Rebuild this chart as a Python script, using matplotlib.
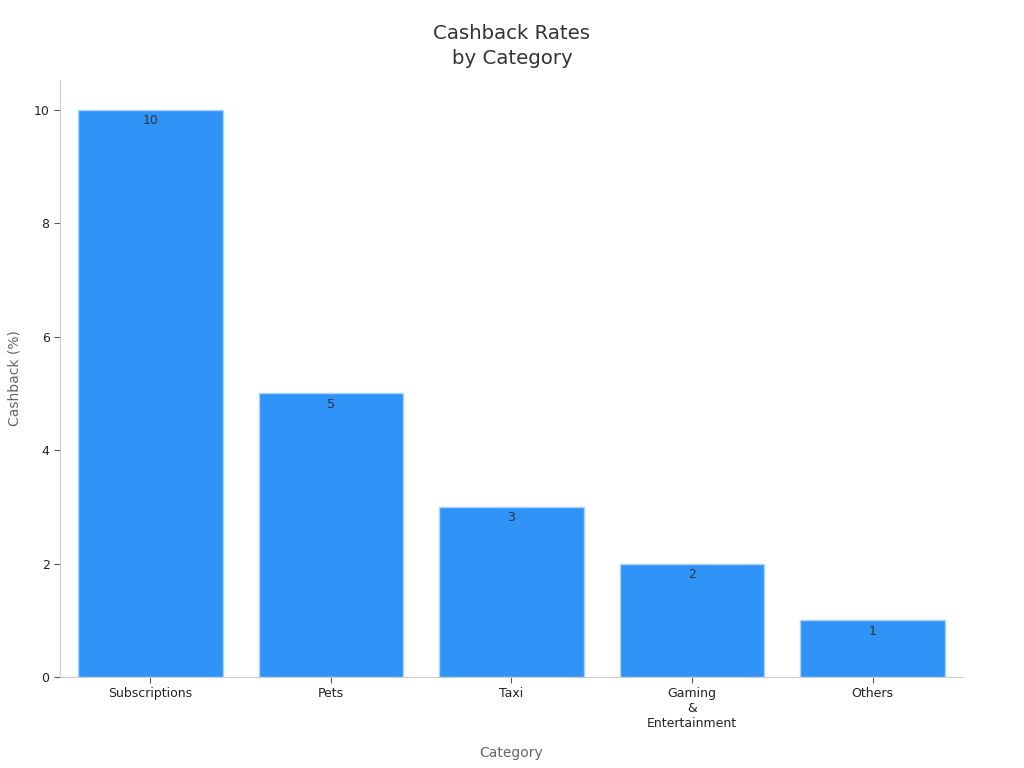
import matplotlib
matplotlib.use("Agg")
import matplotlib.pyplot as plt

categories = ["Subscriptions", "Pets", "Taxi", "Gaming\n&\nEntertainment", "Others"]
cashback = [10, 5, 3, 2, 1]

fig = plt.figure(figsize=(10.24, 7.68), dpi=100)
ax = fig.add_axes([0.0586, 0.1185, 0.8818, 0.7775])

bars = ax.bar(range(len(categories)), cashback, width=0.8, color="#2f93f8",
              edgecolor="#a8d4ff", linewidth=1)
for i, v in enumerate(cashback):
    ax.text(i, v - 0.08, str(v), ha="center", va="top", fontsize=9, color="#333333")

ax.set_xlim(-0.5, 4.5)
ax.set_ylim(0, 10.53)
ax.set_xticks(range(len(categories)))
ax.set_xticklabels(categories, fontsize=9, color="#222222")
ax.set_yticks([0, 2, 4, 6, 8, 10])
ax.tick_params(axis="y", labelsize=9, colors="#222222")
ax.tick_params(axis="both", color="#555555", length=4)
for s in ["top", "right"]:
    ax.spines[s].set_visible(False)
for s in ["left", "bottom"]:
    ax.spines[s].set_color("#cccccc")

ax.set_xlabel("Category", fontsize=10, color="#666666", labelpad=11)
ax.set_ylabel("Cashback (%)", fontsize=10, color="#666666", labelpad=9)
fig.text(0.5, 0.94, "Cashback Rates\nby Category", ha="center", va="center",
         fontsize=14.2, color="#333333", linespacing=1.45)

fig.savefig("out.png", dpi=100)
